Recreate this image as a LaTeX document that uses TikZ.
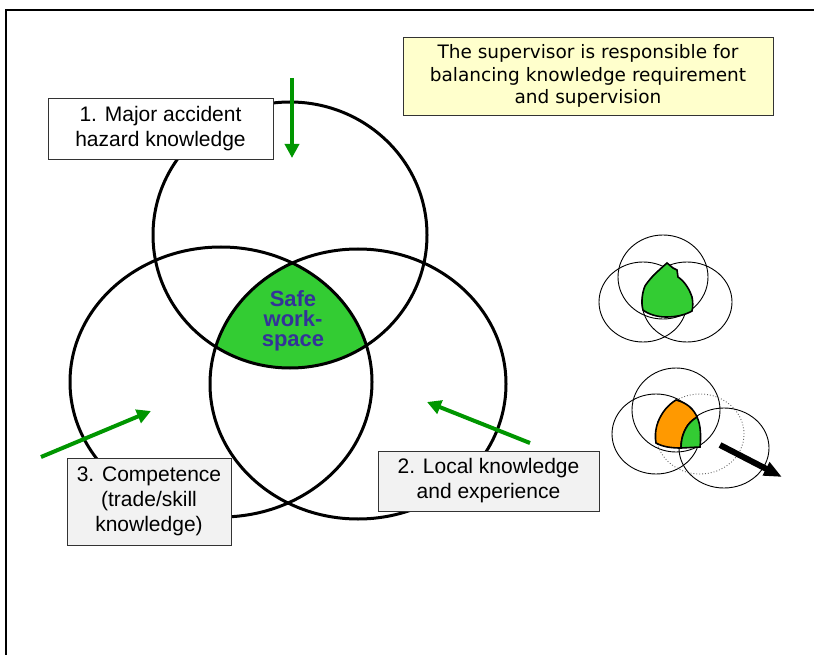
\documentclass[tikz,border=0pt]{standalone}
\usepackage{fontspec}
\setmainfont{Liberation Sans}
\newfontfamily\verd{DejaVu Sans}
\usetikzlibrary{arrows.meta}
\definecolor{arrgreen}{RGB}{0,150,0}
\definecolor{safegreen}{RGB}{51,204,51}
\definecolor{safeblue}{RGB}{51,51,153}
\definecolor{boxgray}{RGB}{242,242,242}
\definecolor{noteyellow}{RGB}{255,255,204}
\definecolor{blorange}{RGB}{255,153,0}
\tikzset{
  bigring/.style={draw=black,line width=3pt},
  smallring/.style={draw=black,line width=0.9pt},
  labelbox/.style={draw=black!80,line width=0.9pt,align=center,inner sep=0pt,
     font=\fontsize{21}{25}\selectfont},
  greenarrow/.style={draw=arrgreen,line width=4pt,-{Triangle[length=14pt,width=14pt]}},
  blackarrow/.style={draw=black,line width=6pt,-{Triangle[length=18pt,width=14pt]}},
  blob/.style={draw=black,line width=1.6pt}
}
\begin{document}
\begin{tikzpicture}[x=1pt,y=-1pt]
\useasboundingbox (0,0) rectangle (814,655);
% frame
\draw[line width=1.5pt] (6,660) -- (6,10) -- (820,10);
% safe workspace fill
\begin{scope}
  \clip (290,235) ellipse [x radius=137pt, y radius=133pt];
  \clip (221,382) ellipse [x radius=151pt, y radius=135pt];
  \fill[safegreen] (358,384) ellipse [x radius=148pt, y radius=135pt];
\end{scope}
% big circles
\draw[bigring] (290,235) ellipse [x radius=137pt, y radius=133pt];
\draw[bigring] (221,382) ellipse [x radius=151pt, y radius=135pt];
\draw[bigring] (358,384) ellipse [x radius=148pt, y radius=135pt];
\node[font=\bfseries\fontsize{22}{20}\selectfont,text=safeblue,align=center] (safe) at (293,321) {Safe\\work-\\space};
% boxes
\node[labelbox,fill=white,minimum width=225pt,minimum height=61pt] (b1) at (160.5,128.5) {1. Major accident\\hazard knowledge};
\node[labelbox,fill=boxgray,minimum width=221pt,minimum height=60pt] (b2) at (488.5,481) {2. Local knowledge\\and experience};
\node[labelbox,fill=boxgray,minimum width=164pt,minimum height=87pt] (b3) at (149,501.5) {3. Competence\\(trade/skill\\knowledge)};
\node[draw=black!80,line width=0.9pt,fill=noteyellow,align=center,inner sep=0pt,minimum width=370pt,minimum height=78pt,
  font=\verd\fontsize{18.5}{22.5}\selectfont] (note) at (588,76) {The supervisor is responsible for\\balancing knowledge requirement\\and supervision};
% green arrows
\coordinate (a1s) at (292,78);  \coordinate (a1e) at (292,158);
\coordinate (a2s) at (530,443); \coordinate (a2e) at (427,402);
\coordinate (a3s) at (41,457);  \coordinate (a3e) at (151,411);
\draw[greenarrow] (a1s) -- (a1e);
\draw[greenarrow] (a2s) -- (a2e);
\draw[greenarrow] (a3s) -- (a3e);
% small venn, top
\draw[smallring] (663,277) ellipse [x radius=45pt, y radius=42pt];
\draw[smallring] (643,302) ellipse [x radius=44pt, y radius=40pt];
\draw[smallring] (687,302) ellipse [x radius=45pt, y radius=40pt];
\filldraw[blob,fill=safegreen] (667,263) -- (673,268) -- (677,270) -- (678,277)
  .. controls (684,281) and (689,288) .. (692,297)
  .. controls (693,302) and (693,307) .. (692,311)
  .. controls (685,315) and (676,317) .. (666,317)
  .. controls (657,317) and (648,314) .. (643,310)
  .. controls (641,303) and (642,293) .. (645,286)
  .. controls (650,278) and (659,270) .. cycle;
% small venn, bottom
\draw[smallring] (676,410) ellipse [x radius=44pt, y radius=42pt];
\draw[smallring] (656,434) ellipse [x radius=44pt, y radius=40pt];
\draw[draw=black!60,line width=0.9pt,dotted] (700,434) ellipse [x radius=44pt, y radius=40pt];
\draw[smallring] (724,448) ellipse [x radius=45pt, y radius=40pt];
\filldraw[blob,fill=blorange] (676,400) .. controls (668,405) and (662,412) .. (658,422)
  .. controls (655,430) and (655,438) .. (656,443)
  .. controls (663,447) and (672,448) .. (681,448)
  .. controls (681,440) and (683,432) .. (688,425)
  .. controls (691,421) and (694,419) .. (697,417)
  .. controls (694,410) and (688,403) .. cycle;
\filldraw[blob,fill=safegreen] (697,417) .. controls (701,425) and (701,438) .. (700,447)
  -- (681,448) .. controls (681,440) and (683,432) .. (688,425)
  .. controls (691,421) and (694,419) .. cycle;
\coordinate (bas) at (720,445); \coordinate (bae) at (782,477);
\draw[blackarrow] (bas) -- (bae);
\end{tikzpicture}
\end{document}
